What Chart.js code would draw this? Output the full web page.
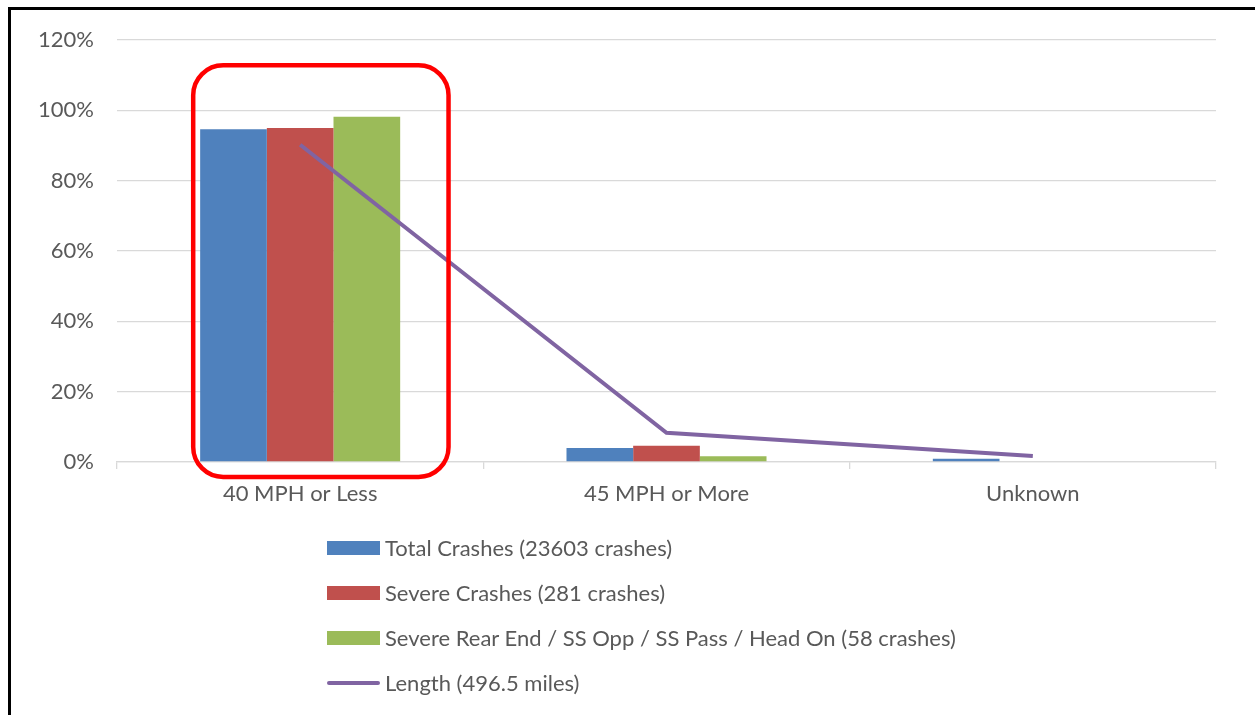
<!DOCTYPE html>
<html>
<head>
<meta charset="utf-8">
<script src="https://cdn.jsdelivr.net/npm/chart.js@4.4.0/dist/chart.umd.min.js"></script>
<style>
    html, body { margin: 0; padding: 0; background: #fff; }
    body { width: 1255px; height: 715px; position: relative; overflow: hidden; font-family: Lato, sans-serif; }
    #frame {
        position: absolute; left: 8px; top: 7px; width: 1400px; height: 900px;
        border-left: 3px solid #000; border-top: 3px solid #000;
    }
    #wrap { position: absolute; left: 0; top: 0; width: 1255px; height: 715px; }
    #legend { position: absolute; left: 327px; top: 525px; }
    .item { display: flex; align-items: center; height: 45px; font-size: 22px; color: #595959; white-space: nowrap; }
    .swatch { width: 53px; height: 14px; margin-right: 5px; }
    .swatch.line { height: 4px; border-radius: 2px; }
</style>
</head>
<body>
<div id="frame"></div>
<div id="wrap"><canvas id="chart" width="1255" height="715"></canvas></div>
<div id="legend"></div>
<script>
// ====================================
// DATOS
// ====================================
const categorias = ['40 MPH or Less', '45 MPH or More', 'Unknown'];
const totalCrashes = [94.6, 4.0, 0.9];
const severeCrashes = [95.0, 4.6, 0];
const severeRearEnd = [98.2, 1.6, 0];
const longitud = [90.2, 8.3, 1.7];
const etiquetas = [
    'Total Crashes (23603 crashes)',
    'Severe Crashes (281 crashes)',
    'Severe Rear End / SS Opp / SS Pass / Head On (58 crashes)',
    'Length (496.5 miles)'
];
const yTicks = [0, 20, 40, 60, 80, 100, 120];

const gris = '#595959';
const grid = '#d9d9d9';

// recuadro rojo alrededor de la primera categoria
const recuadroRojo = {
    id: 'recuadroRojo',
    afterDatasetsDraw(chart) {
        const x = chart.scales.x, y = chart.scales.y;
        const cx = x.getPixelForValue(0);
        const anchoCat = x.width / categorias.length;
        const left = cx - anchoCat * 0.292, right = cx + anchoCat * 0.405;
        const top = y.getPixelForValue(112.8);
        const bottom = y.bottom + 15;
        const ctx = chart.ctx;
        ctx.save();
        ctx.strokeStyle = '#ff0000';
        ctx.lineWidth = 4.5;
        ctx.beginPath();
        ctx.roundRect(left, top, right - left, bottom - top, 30);
        ctx.stroke();
        ctx.restore();
    }
};

const chart = new Chart(document.getElementById('chart'), {
    type: 'bar',
    data: {
        labels: categorias,
        datasets: [
            { label: etiquetas[0], data: totalCrashes, backgroundColor: '#4f81bd', order: 2 },
            { label: etiquetas[1], data: severeCrashes, backgroundColor: '#c0504d', order: 2 },
            { label: etiquetas[2], data: severeRearEnd, backgroundColor: '#9bbb59', order: 2 },
            {
                type: 'line', label: etiquetas[3], data: longitud,
                borderColor: '#8064a2', borderWidth: 4, pointRadius: 0,
                tension: 0, order: 1
            }
        ]
    },
    options: {
        responsive: false,
        animation: false,
        events: [],
        datasets: { bar: { barPercentage: 1, categoryPercentage: 0.546 } },
        layout: { padding: { left: 0, top: 40, right: 39, bottom: 203 } },
        plugins: { legend: { display: false }, tooltip: { enabled: false } },
        scales: {
            y: {
                min: 0, max: 120,
                afterBuildTicks(scale) { scale.ticks = yTicks.map(v => ({ value: v })); },
                afterFit(scale) { scale.width = 117; },
                grid: { color: grid, lineWidth: 1.3, drawTicks: false },
                border: { display: false },
                ticks: {
                    color: gris, padding: 23,
                    font: { family: 'Lato', size: 22 },
                    callback: v => v + '%'
                }
            },
            x: {
                afterFit(scale) { scale.height = 50; },
                grid: { drawOnChartArea: false, color: grid, lineWidth: 1.3, tickLength: 7 },
                border: { color: grid, width: 1.3 },
                ticks: { color: gris, padding: 12, font: { family: 'Lato', size: 22 } }
            }
        }
    },
    plugins: [recuadroRojo]
});

// leyenda en columna (como Excel)
const legend = document.getElementById('legend');
chart.data.datasets.forEach(ds => {
    const item = document.createElement('div');
    item.className = 'item';
    const sw = document.createElement('span');
    sw.className = 'swatch' + (ds.type === 'line' ? ' line' : '');
    sw.style.background = ds.type === 'line' ? ds.borderColor : ds.backgroundColor;
    item.appendChild(sw);
    item.appendChild(document.createTextNode(ds.label));
    legend.appendChild(item);
});
</script>
</body>
</html>
